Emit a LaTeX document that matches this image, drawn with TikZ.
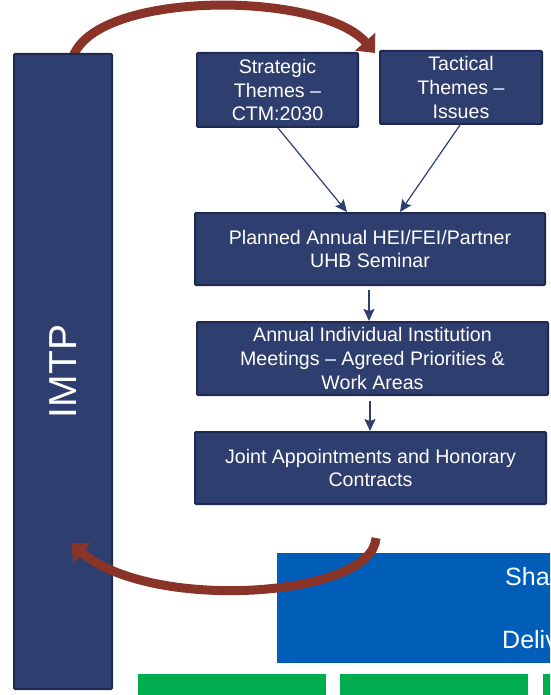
\documentclass[tikz,border=0pt]{standalone}
\usepackage{fontspec}
\setmainfont{Liberation Sans}
\usetikzlibrary{arrows.meta}
\definecolor{navy}{HTML}{2E3E6F}
\definecolor{navyedge}{HTML}{1E2A52}
\definecolor{brownarc}{HTML}{8A3328}
\definecolor{nhsblue}{HTML}{005EB8}
\definecolor{nhsgreen}{HTML}{00AD4F}
\tikzset{
  box/.style={draw=navyedge, line width=2pt, fill=navy, rounded corners=1pt,
    text=white, align=center, font=\fontsize{19.6}{23.8}\selectfont, inner sep=0pt},
  conn/.style={draw=navy, line width=1.2pt, -{Stealth[length=12pt,width=11pt,inset=2pt]}},
  bigarc/.style={draw=brownarc, line width=9pt, -{Triangle[width=26pt,length=15pt]}},
}
\begin{document}
\begin{tikzpicture}[x=1pt,y=-1pt]
\useasboundingbox (0,0) rectangle (550,695);
\clip (0,0) rectangle (550,695);
% top curved arrow (behind bar)
\coordinate (ta) at (72,60);
\coordinate (tb) at (375,53);
\draw[bigarc] (ta) .. controls (90,-10) and (320,-10) .. (tb);
% IMTP bar
\node[box, minimum width=98pt, minimum height=635pt] (imtp) at (63,371.5) {};
\node[rotate=90, text=white, font=\fontsize{39}{40}\selectfont] (imtptext) at (imtp.center) {IMTP};
% boxes
\node[box, minimum width=161pt, minimum height=74pt] (strat) at (277.5,90) {Strategic\\Themes --\\CTM:2030};
\node[box, minimum width=162pt, minimum height=73pt] (tact) at (461,87.5) {Tactical\\Themes --\\Issues};
\node[box, minimum width=350pt, minimum height=72pt] (plan) at (370,249) {Planned Annual HEI/FEI/Partner\\UHB Seminar};
\node[box, minimum width=351pt, minimum height=73pt] (ann) at (372.5,358.5) {Annual Individual Institution\\Meetings -- Agreed Priorities \&\\Work Areas};
\node[box, minimum width=351pt, minimum height=72pt] (joint) at (370.5,468) {Joint Appointments and Honorary\\Contracts};
% connectors
\draw[conn] ([xshift=0.5pt]strat.south) -- ([xshift=-23pt]plan.north);
\draw[conn] ([xshift=-1pt]tact.south) -- ([xshift=30pt]plan.north);
\draw[conn, shorten <=4pt] ([xshift=-1pt]plan.south) -- ([xshift=-1pt]plan.south |- ann.north);
\draw[conn, shorten <=5pt] ([xshift=-2.5pt]ann.south) -- ([xshift=-2.5pt]ann.south |- joint.north);
% blue box
\node[fill=nhsblue, minimum width=280pt, minimum height=110pt, inner sep=0pt, anchor=north west] (shared) at (277,553) {};
\node[anchor=base west, text=white, font=\fontsize{25}{26}\selectfont, inner sep=0pt] (sharedtxt) at (505,585) {Shared};
\node[anchor=base west, text=white, font=\fontsize{25}{26}\selectfont, inner sep=0pt] (delivtxt) at (502,648) {Delivery};
% green boxes
\node[fill=nhsgreen, minimum width=188pt, minimum height=30pt, inner sep=0pt, anchor=north west] (g1) at (138,674) {};
\node[fill=nhsgreen, minimum width=188pt, minimum height=30pt, inner sep=0pt, anchor=north west] (g2) at (340,674) {};
\node[fill=nhsgreen, minimum width=188pt, minimum height=30pt, inner sep=0pt, anchor=north west] (g3) at (543,674) {};
% bottom curved arrow (over bar and blue box)
\coordinate (ba) at (376,538);
\coordinate (bb) at (71,543);
\draw[bigarc] (ba) .. controls (372,598) and (150,612) .. (bb);
\end{tikzpicture}
\end{document}
